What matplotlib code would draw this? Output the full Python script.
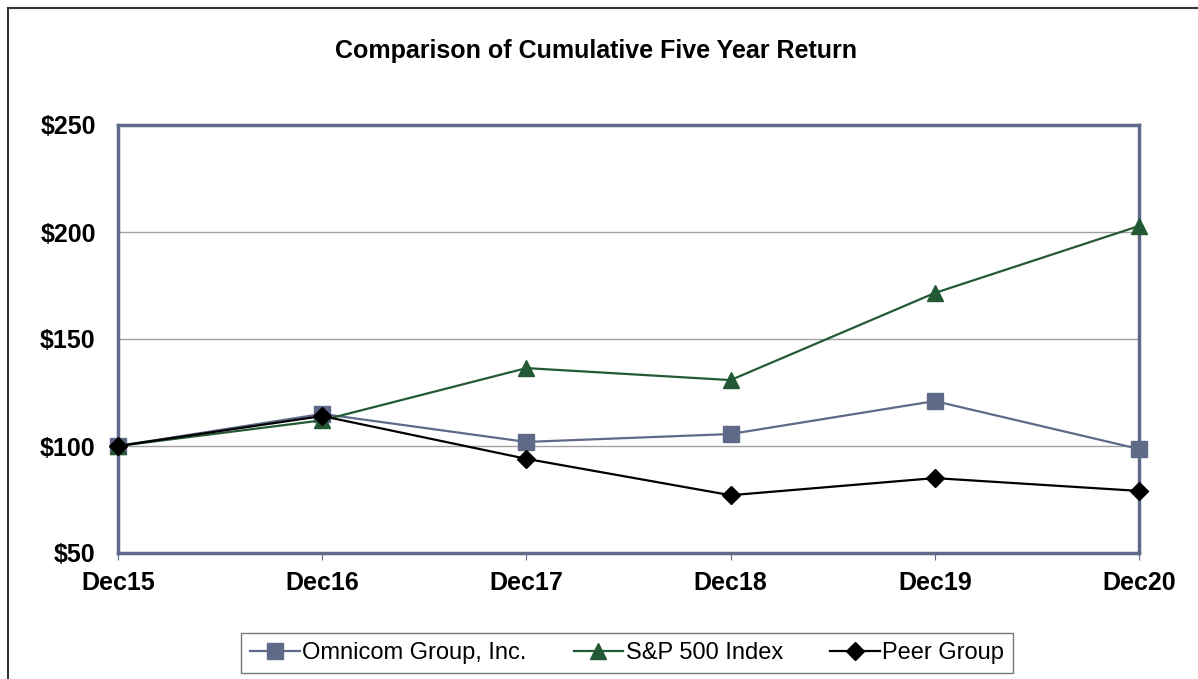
import matplotlib.pyplot as plt
from matplotlib.patches import Rectangle

# data
years = ["Dec15", "Dec16", "Dec17", "Dec18", "Dec19", "Dec20"]
omnicom = [100, 115, 101.9, 105.6, 121, 98.6]
sp500 = [100, 112, 136.4, 130.8, 171.5, 202.8]
peer = [100, 114, 94, 77, 85, 79]
y_ticks = [50, 100, 150, 200, 250]

plt.rcParams["font.family"] = ["Liberation Sans", "DejaVu Sans"]

fig = plt.figure(figsize=(11.98, 6.79), dpi=100)
ax = fig.add_axes([118 / 1198, 1 - 553 / 679, (1139 - 118) / 1198, (553 - 125) / 679])

# outer frame
fig.patches.append(Rectangle((8 / 1198, -0.1), 1.2, 1 - 8 / 679 + 0.1,
                             transform=fig.transFigure, fill=False,
                             edgecolor="#333333", linewidth=1.5))

x = range(len(years))
ax.plot(x, omnicom, color="#5E6A87", marker="s", markersize=11, linewidth=1.6,
        label="Omnicom Group, Inc.", clip_on=False, zorder=3)
ax.plot(x, sp500, color="#235A35", marker="^", markersize=12, linewidth=1.6,
        label="S&P 500 Index", clip_on=False, zorder=4)
ax.plot(x, peer, color="black", marker="D", markersize=9, linewidth=1.6,
        label="Peer Group", clip_on=False, zorder=5)

ax.set_xlim(0, len(years) - 1)
ax.set_ylim(50, 250)
ax.set_yticks(y_ticks)
ax.set_yticklabels(["$%d" % v for v in y_ticks], fontsize=18, fontweight="bold")
ax.set_xticks(list(x))
ax.set_xticklabels(years, fontsize=18, fontweight="bold")
ax.tick_params(axis="y", length=0, pad=16)
ax.tick_params(axis="x", length=5, color="#5E6A87", pad=8)
ax.yaxis.grid(True, color="#A0A0A0", linewidth=1)
ax.set_axisbelow(True)
for s in ax.spines.values():
    s.set_color("#5E6A87")
    s.set_linewidth(2.5)

fig.text(596 / 1198, 1 - 51 / 679, "Comparison of Cumulative Five Year Return",
         ha="center", va="center", fontsize=18, fontweight="bold")

leg = fig.legend(loc="center", bbox_to_anchor=(627 / 1198, 1 - 653 / 679), ncol=3,
                 fontsize=17, frameon=True, fancybox=False, edgecolor="#555555",
                 columnspacing=2.0, handlelength=2.1, handletextpad=0.1,
                 borderpad=0.4, borderaxespad=0)
leg.get_frame().set_linewidth(1)

fig.savefig("out.png", dpi=100)
